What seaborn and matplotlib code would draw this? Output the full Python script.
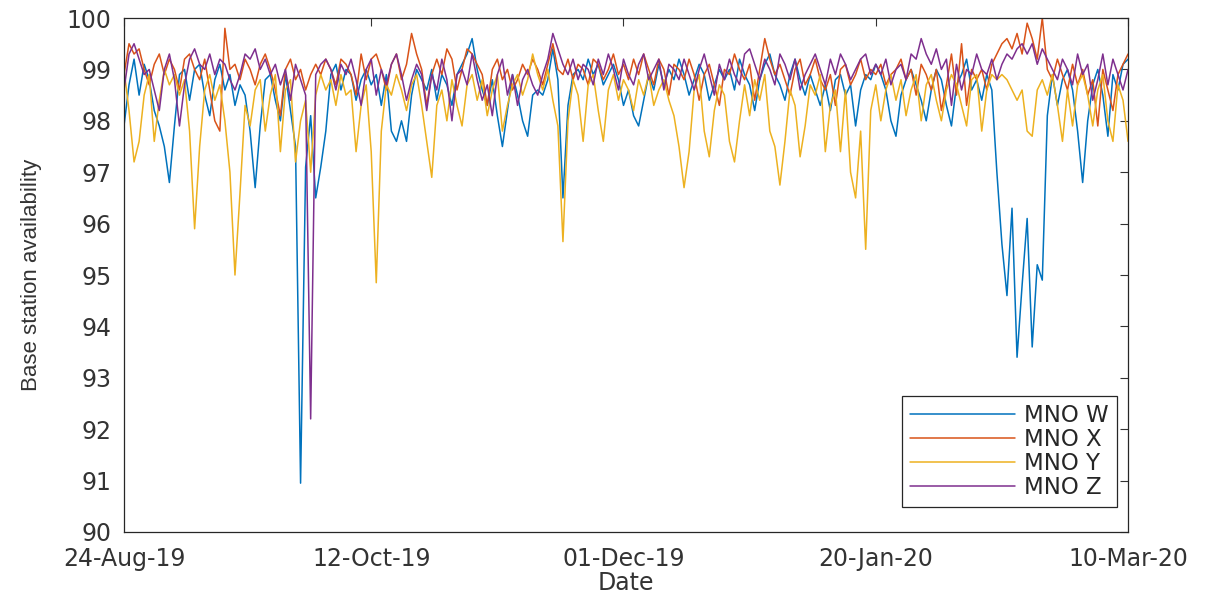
import numpy as np
import pandas as pd
import matplotlib
matplotlib.use("Agg")
import matplotlib.pyplot as plt
import matplotlib.dates as mdates
import seaborn as sns

series_names = ["MNO W", "MNO X", "MNO Y", "MNO Z"]
series_colors = ["#0072BD", "#D95319", "#EDB120", "#7E2F8E"]
start_date = "2019-08-24"
tick_dates = ["2019-08-24", "2019-10-12", "2019-12-01", "2020-01-20", "2020-03-10"]
y_ticks = [90, 91, 92, 93, 94, 95, 96, 97, 98, 99, 100]

mno_w = [
    97.9, 98.7, 99.2, 98.5, 99.1, 98.8, 98.2, 97.9, 97.5, 96.8,
    97.9, 98.9, 99.0, 98.4, 99.0, 99.1, 98.5, 98.1, 98.8, 99.1,
    98.6, 98.9, 98.3, 98.7, 98.5, 97.8, 96.7, 97.9, 98.8, 98.9,
    98.4, 98.0, 98.9, 98.2, 97.5, 90.95, 97.1, 98.1, 96.5, 97.1,
    97.8, 98.9, 99.1, 98.6, 99.0, 98.9, 98.4, 98.8, 99.0, 98.7,
    98.9, 98.3, 98.9, 97.8, 97.6, 98.0, 97.6, 98.5, 99.0, 98.8,
    98.6, 99.0, 98.4, 98.9, 98.7, 98.3, 98.9, 99.1, 99.3, 99.6,
    99.0, 98.6, 98.3, 98.8, 98.1, 97.5, 98.2, 98.9, 98.5, 98.0,
    97.7, 98.5, 98.6, 98.5, 98.8, 99.4, 98.8, 96.5, 98.3, 98.9,
    99.0, 98.8, 99.2, 98.9, 99.1, 98.7, 98.9, 99.1, 98.8, 98.3,
    98.6, 98.1, 97.9, 98.4, 98.9, 98.6, 99.1, 98.7, 99.0, 98.8,
    99.2, 98.9, 98.5, 98.8, 99.1, 98.9, 98.4, 98.7, 99.0, 98.8,
    99.0, 98.6, 99.2, 98.9, 98.7, 98.2, 98.8, 99.1, 99.3, 98.9,
    98.7, 98.4, 98.9, 99.2, 98.8, 98.5, 98.9, 98.6, 98.3, 98.7,
    98.2, 98.8, 98.9, 98.5, 98.7, 97.9, 98.6, 98.9, 98.8, 99.1,
    98.9, 98.6, 98.0, 97.7, 98.5, 98.8, 99.0, 98.7, 98.4, 98.0,
    98.6, 99.0, 98.8, 98.3, 97.9, 98.7, 98.9, 99.2, 98.6, 98.8,
    98.4, 98.9, 98.6, 97.0, 95.6, 94.6, 96.3, 93.4, 94.8, 96.1,
    93.6, 95.2, 94.9, 98.1, 98.9, 98.3, 98.8, 99.0, 98.6, 97.8,
    96.8, 98.0, 98.7, 99.0, 98.5, 97.7, 98.9, 98.6, 99.1, 99.2,
]

mno_x = [
    98.9, 99.5, 99.3, 99.4, 99.0, 98.7, 99.1, 99.3, 98.9, 99.2,
    99.0, 98.6, 99.2, 99.3, 99.0, 98.8, 99.2, 98.6, 98.0, 97.8,
    99.8, 99.0, 99.1, 98.8, 99.2, 99.0, 98.7, 99.1, 99.3, 99.0,
    98.6, 98.1, 99.0, 99.2, 98.8, 99.0, 98.6, 98.9, 99.1, 98.9,
    99.2, 99.0, 98.7, 99.2, 99.1, 98.9, 98.5, 99.3, 98.8, 99.2,
    99.3, 99.0, 98.6, 99.1, 99.3, 98.8, 99.1, 99.7, 99.3, 99.0,
    98.3, 98.9, 99.2, 98.9, 99.4, 99.2, 98.6, 99.0, 99.4, 99.3,
    99.1, 98.9, 98.3, 99.0, 99.2, 98.8, 99.0, 98.6, 98.8, 99.1,
    98.9, 99.2, 99.0, 98.7, 99.1, 99.5, 99.0, 98.9, 99.2, 98.8,
    99.1, 99.0, 98.7, 99.2, 99.1, 98.8, 99.0, 99.3, 98.9, 99.1,
    98.8, 99.2, 98.9, 99.3, 99.0, 98.7, 99.2, 99.0, 98.5, 99.1,
    99.0, 98.8, 99.2, 98.9, 98.4, 98.9, 99.1, 98.7, 98.3, 99.0,
    98.9, 99.3, 99.0, 98.8, 99.1, 98.4, 99.0, 99.6, 99.2, 98.9,
    99.1, 98.8, 98.5, 99.0, 99.2, 98.7, 98.9, 99.2, 98.8, 98.6,
    98.9, 98.3, 99.0, 99.1, 98.7, 98.9, 99.2, 98.8, 99.0, 98.9,
    99.1, 98.7, 98.9, 99.0, 99.2, 98.8, 99.0, 98.5, 99.1, 98.9,
    98.6, 99.0, 98.2, 98.7, 99.3, 98.5, 99.5, 98.3, 99.0, 98.8,
    99.0, 98.6, 99.1, 99.3, 99.5, 99.6, 99.4, 99.7, 99.3, 99.9,
    99.6, 99.2, 100.0, 99.0, 98.8, 99.2, 98.9, 98.6, 99.1, 98.7,
    99.0, 98.5, 98.8, 97.9, 99.0, 98.6, 98.2, 98.9, 99.1, 99.3,
]

mno_y = [
    99.0, 98.2, 97.2, 97.6, 98.5, 98.9, 97.6, 98.4, 99.0, 98.7,
    98.9, 98.5, 98.8, 97.8, 95.9, 97.5, 98.6, 98.9, 98.4, 98.7,
    98.0, 97.0, 95.0, 96.6, 98.3, 97.9, 98.6, 98.8, 97.8, 98.5,
    98.9, 97.4, 98.6, 98.8, 97.2, 98.0, 98.4, 97.0, 98.5, 98.9,
    98.6, 98.8, 98.3, 98.9, 98.5, 98.6, 97.4, 98.3, 98.7, 97.4,
    94.85, 97.8, 98.7, 98.5, 98.9, 98.6, 98.2, 98.7, 98.9, 98.3,
    97.6, 96.9, 98.3, 98.6, 98.0, 98.8, 98.3, 97.9, 98.7, 98.9,
    98.4, 98.8, 98.1, 98.6, 98.9, 97.8, 98.3, 98.7, 98.9, 98.5,
    98.8, 99.3, 98.9, 98.6, 99.0, 98.4, 97.9, 95.65, 98.0, 98.8,
    98.5, 97.6, 98.7, 98.9, 98.2, 97.6, 98.6, 98.9, 98.4, 98.8,
    98.6, 98.2, 98.8, 98.5, 98.9, 98.3, 98.6, 98.8, 98.4, 98.1,
    97.5, 96.7, 97.4, 98.6, 98.9, 97.8, 97.3, 98.2, 98.7, 98.5,
    97.6, 97.2, 98.0, 98.7, 98.1, 98.8, 98.4, 98.9, 97.8, 97.5,
    96.75, 97.6, 98.6, 98.3, 97.3, 97.9, 98.7, 98.5, 98.9, 97.4,
    98.3, 98.6, 97.4, 98.6, 97.0, 96.5, 97.8, 95.5, 98.2, 98.7,
    98.0, 98.6, 98.9, 98.4, 98.8, 98.1, 98.6, 98.9, 98.0, 98.7,
    98.9, 98.4, 98.0, 98.6, 98.9, 98.7, 98.3, 97.9, 98.8, 98.9,
    97.8, 98.6, 98.9, 98.8, 98.9, 98.8, 98.6, 98.4, 98.6, 97.8,
    97.7, 98.6, 98.8, 98.5, 98.9, 98.3, 97.6, 98.6, 97.9, 98.7,
    98.9, 98.5, 97.9, 98.6, 98.9, 98.0, 97.6, 98.7, 98.4, 97.6,
]

mno_z = [
    98.6, 99.3, 99.5, 99.2, 98.9, 99.0, 98.6, 98.2, 99.0, 99.3,
    98.8, 97.9, 98.7, 99.2, 99.4, 99.1, 99.0, 99.3, 98.9, 99.2,
    99.1, 98.8, 98.6, 98.9, 99.3, 99.2, 99.4, 99.0, 99.2, 98.9,
    99.1, 98.7, 99.0, 98.4, 99.1, 98.8, 98.5, 92.2, 98.9, 99.1,
    99.2, 99.0, 98.6, 99.1, 98.9, 99.2, 98.8, 98.3, 99.0, 99.2,
    98.5, 99.0, 98.7, 99.1, 99.3, 98.9, 98.4, 98.8, 99.1, 98.9,
    98.2, 98.9, 98.6, 99.2, 98.8, 98.0, 98.9, 99.0, 98.7, 99.3,
    98.8, 98.4, 98.7, 98.1, 98.9, 99.2, 98.5, 98.9, 98.3, 98.8,
    99.0, 98.7, 98.5, 98.9, 99.2, 99.7, 99.4, 99.1, 98.9, 99.2,
    98.8, 99.1, 99.0, 98.7, 99.2, 98.9, 99.3, 99.0, 98.6, 99.2,
    98.9, 98.7, 99.1, 99.3, 98.8, 99.0, 99.2, 98.6, 99.1, 99.0,
    98.8, 99.2, 98.9, 98.6, 99.0, 99.3, 98.9, 98.5, 99.1, 98.8,
    99.2, 98.9, 98.7, 99.3, 99.4, 99.1, 98.8, 99.2, 99.0, 98.7,
    99.3, 99.1, 98.8, 99.2, 98.6, 98.9, 99.1, 99.3, 99.0, 98.7,
    99.2, 98.9, 99.3, 99.1, 98.8, 99.0, 99.2, 99.3, 98.9, 99.1,
    98.9, 99.2, 98.7, 99.0, 99.1, 98.8, 99.3, 99.2, 99.6, 99.3,
    99.1, 99.4, 99.0, 99.2, 98.3, 99.1, 98.6, 99.0, 98.9, 99.3,
    99.0, 98.9, 99.2, 98.8, 99.1, 99.3, 99.2, 99.4, 99.5, 99.3,
    99.5, 99.1, 99.4, 99.2, 99.0, 98.8, 99.2, 99.0, 98.7, 99.3,
    98.9, 99.1, 98.4, 98.8, 99.3, 98.7, 99.2, 98.9, 98.6, 99.0,
]

dates = pd.date_range(start_date, periods=len(mno_w), freq="D")
frames = []
for name, vals in zip(series_names, [mno_w, mno_x, mno_y, mno_z]):
    frames.append(pd.DataFrame({"Date": dates, "value": vals, "series": name}))
df = pd.concat(frames, ignore_index=True)

sns.set_style("white")
plt.rcParams["font.family"] = ["DejaVu Sans"]

fig = plt.figure(figsize=(12.19, 5.97), dpi=100)
ax = fig.add_axes([0.1017, 0.1089, 0.8237, 0.8609])

sns.lineplot(data=df, x="Date", y="value", hue="series", hue_order=series_names,
             palette=series_colors, linewidth=1.1, ax=ax, legend=False)

ax.set_xlim(pd.Timestamp(tick_dates[0]), pd.Timestamp(tick_dates[-1]))
ax.set_ylim(90, 100)
ax.set_yticks(y_ticks)
ax.set_xticks([pd.Timestamp(d) for d in tick_dates])
ax.xaxis.set_major_formatter(mdates.DateFormatter("%d-%b-%y"))

ax.tick_params(direction="in", top=True, right=True, length=6, width=0.8,
               colors="#333333", labelsize=17)
ax.tick_params(axis="x", pad=11)
ax.tick_params(axis="y", pad=9)
for sp in ax.spines.values():
    sp.set_color("#262626")
    sp.set_linewidth(0.9)
    sp.set_visible(True)

ax.set_xlabel("Date", fontsize=17, color="#333333", labelpad=0)
ax.set_ylabel("Base station availability", fontsize=16, color="#333333",
              family="Liberation Sans", labelpad=18)

handles = [plt.Line2D([], [], color=c, linewidth=1.1) for c in series_colors]
leg = ax.legend(handles, series_names, loc="lower right",
                bbox_to_anchor=(0.989, 0.0486), borderaxespad=0.0,
                fontsize=16.5, frameon=True, fancybox=False, framealpha=1,
                edgecolor="#262626", handlelength=4.6, handletextpad=0.4,
                labelspacing=0.05, borderpad=0.35)
leg.get_frame().set_linewidth(0.9)

fig.savefig("out.png", dpi=100)
